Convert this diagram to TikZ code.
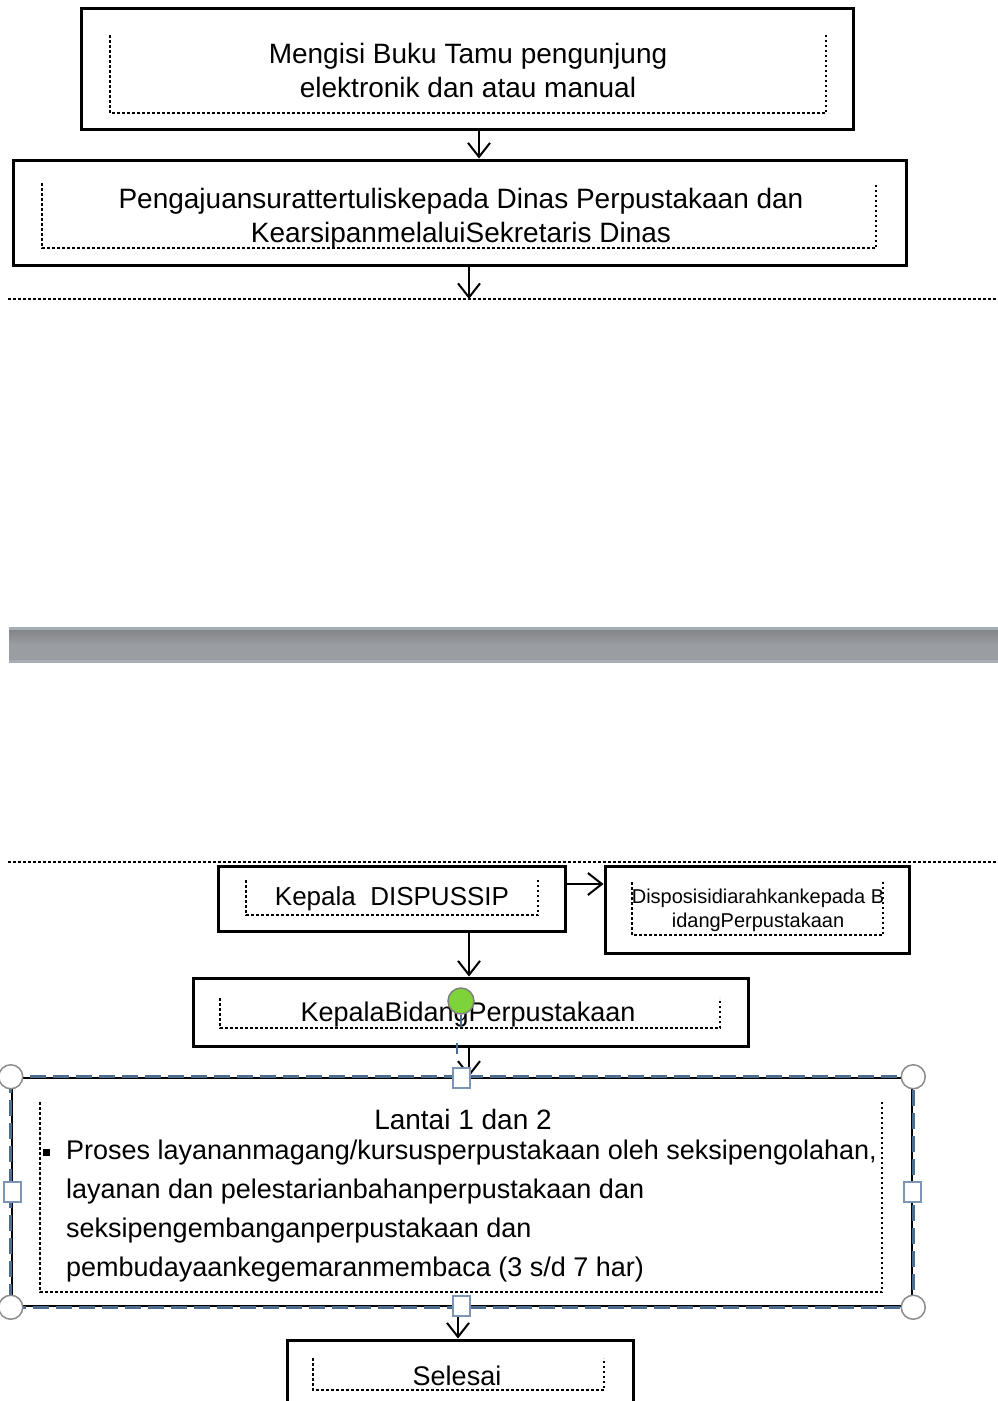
\documentclass[tikz,border=0pt]{standalone}
\usepackage{fontspec}
\setmainfont{Liberation Sans}
\usetikzlibrary{arrows.meta}
\definecolor{handleblue}{HTML}{7B95B3}
\definecolor{selblue}{HTML}{4D6D8E}
\definecolor{handlegray}{HTML}{8C8C8C}
\definecolor{rotgreen}{HTML}{7ED23A}
\definecolor{barlight}{HTML}{A7ADB4}
\definecolor{bartop}{HTML}{838589}
\definecolor{barmid}{HTML}{9A9EA3}
\begin{document}
\begin{tikzpicture}[x=1pt,y=-1pt,
  box/.style={draw=black,line width=3pt,fill=white,inner sep=0pt},
  dotu/.style={line width=2.5pt,dash pattern=on 2.5pt off 2.5pt},
  fullsep/.style={line width=2.5pt,dash pattern=on 2.5pt off 2.5pt},
  arr/.style={line width=2pt,-{Straight Barb[length=14pt,width=22pt,line width=2pt]}},
  txt/.style={font=\fontsize{28}{34}\selectfont,align=center,inner sep=0pt},
  roundhandle/.style={circle,fill=white,draw=handlegray,line width=1.5pt,minimum size=24pt,inner sep=0pt},
  sqhandle/.style={rectangle,fill=white,draw=handleblue,line width=2pt,minimum width=17pt,minimum height=20pt,inner sep=0pt},
]
\useasboundingbox (0,0) rectangle (998,1401);

% ---- box 1
\node[box,minimum width=772pt,minimum height=121pt] (b1) at (467,68.5) {};
\draw[dotu] (110,35) -- (110,113) -- (826,113) -- (826,35);
\node[txt] (t1) at (468,70) {Mengisi Buku Tamu pengunjung\\elektronik dan atau manual};

% ---- box 2
\node[box,minimum width=893pt,minimum height=105pt] (b2) at (459.5,212.5) {};
\draw[dotu] (42,183) -- (42,248) -- (876,248) -- (876,183);
\node[txt] (t2) at (461,218) {Pengajuansurattertuliskepada Dinas Perpustakaan dan\\KearsipanmelaluiSekretaris Dinas};

\coordinate (a1) at (479,0);
\draw[arr] (b1.south -| a1) -- (b2.north -| a1);

% ---- separator 1
\coordinate (s1a) at (8,299);
\coordinate (s1b) at (998,299);
\draw[fullsep] (s1a) -- (s1b);
\coordinate (a2) at (469,0);
\draw[arr] (b2.south -| a2) -- (s1a -| a2);

% ---- gray bar
\shade[top color=bartop,bottom color=barmid,middle color=barmid] (9,630) rectangle (998,660);
\fill[barlight] (9,627) rectangle (998,630);
\fill[barlight] (9,660) rectangle (998,663);

% ---- separator 2
\coordinate (s2a) at (8,862);
\coordinate (s2b) at (998,862);
\draw[fullsep] (s2a) -- (s2b);

% ---- Kepala DISPUSSIP
\node[box,minimum width=347pt,minimum height=65pt] (b3) at (391.5,898.5) {};
\draw[dotu] (246,880) -- (246,915) -- (538,915) -- (538,880);
\node[txt,font=\fontsize{26}{32}\selectfont] (t3) at (392,899) {Kepala\ \ DISPUSSIP};

% ---- Disposisi box
\node[box,minimum width=304pt,minimum height=87pt] (b4) at (757,909.5) {};
\draw[dotu] (632,882) -- (632,935) -- (883,935) -- (883,882);
\node[txt,font=\fontsize{20}{24}\selectfont] (t4) at (758,910) {Disposisidiarahkankepada B\\idangPerpustakaan};

\coordinate (r1) at (0,884);
\draw[arr] (b3.east |- r1) -- (b4.west |- r1);

% ---- Kepala Bidang
\node[box,minimum width=555pt,minimum height=68pt] (b5) at (470.5,1012) {};
\draw[dotu] (220,998) -- (220,1028) -- (720,1028) -- (720,998);
\node[txt,font=\fontsize{27}{34}\selectfont] (t5) at (468,1015) {KepalaBidangPerpustakaan};

\coordinate (a3) at (469,0);
\draw[arr] (b3.south -| a3) -- (b5.north -| a3);

% ---- big selected box
\node[draw=black,line width=2.5pt,fill=white,minimum width=900pt,minimum height=228pt,inner sep=0pt] (b6) at (462,1192) {};
\draw[selblue,line width=3pt,dash pattern=on 16pt off 7pt] (b6.north west) rectangle (b6.south east);
\draw[dotu] (40,1102) -- (40,1292) -- (882,1292) -- (882,1102);
\node[txt] (t6) at (463,1119) {Lantai 1 dan 2};
\node[fill=black,minimum size=7pt,inner sep=0pt] (bul) at (46,1152) {};
\node[inner sep=0pt,anchor=west,align=left,font=\fontsize{27}{39}\selectfont] (t7) at (66,1211) {Proses layananmagang/kursusperpustakaan oleh seksipengolahan,\\layanan dan pelestarianbahanperpustakaan dan\\seksipengembanganperpustakaan dan\\pembudayaankegemaranmembaca (3 s/d 7 har)};

\draw[arr] (b5.south -| a3) -- (b6.north -| a3);

% ---- Selesai
\node[box,minimum width=346pt,minimum height=80pt] (b7) at (460,1380) {};
\draw[dotu] (313,1358) -- (313,1390) -- (604,1390) -- (604,1358);
\node[txt,font=\fontsize{27}{34}\selectfont] (t8) at (457,1376) {Selesai};

\coordinate (a4) at (458,0);
\draw[arr] (b6.south -| a4) -- (b7.north -| a4);

% ---- selection handles
\node[roundhandle] (h1) at (b6.north west) {};
\node[roundhandle] (h2) at (b6.north east) {};
\node[roundhandle] (h3) at (b6.south west) {};
\node[roundhandle] (h4) at (b6.south east) {};
\node[sqhandle] (h5) at (461,1078) {};
\node[sqhandle] (h6) at (461,1306) {};
\node[sqhandle] (h7) at (12,1192) {};
\node[sqhandle] (h8) at (912,1192) {};

% ---- rotation handle
\node[circle,fill=rotgreen,draw=gray,line width=1.5pt,minimum width=26pt,inner sep=0pt] (rot) at (461,1001) {};
\draw[selblue,line width=1.5pt] (rot.south) -- (461,1026);
\coordinate (m1) at (457,1043);
\coordinate (m2) at (457,1054);
\draw[selblue,line width=1.5pt] (m1) -- (m2);
\end{tikzpicture}
\end{document}
